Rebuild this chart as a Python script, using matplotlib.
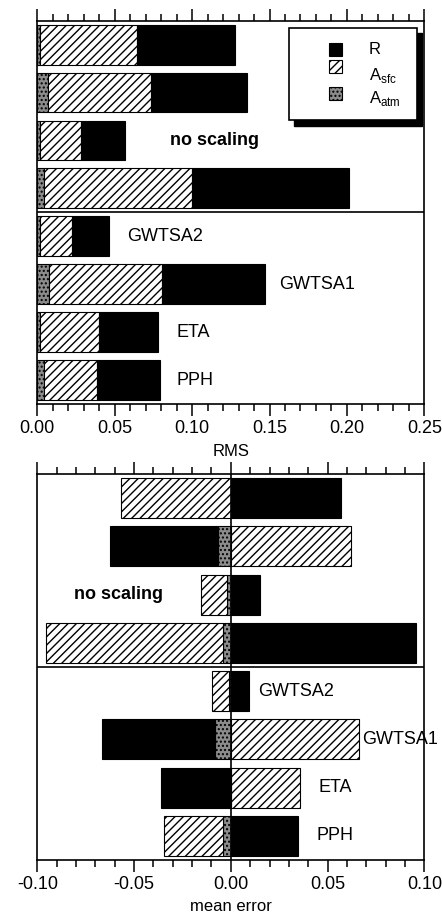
import matplotlib
matplotlib.use('Agg')
import matplotlib.pyplot as plt
from matplotlib.patches import Rectangle
import numpy as np

plt.rcParams['font.family'] = ['Liberation Sans', 'DejaVu Sans']
plt.rcParams['axes.unicode_minus'] = False
plt.rcParams['mathtext.fontset'] = 'custom'
plt.rcParams['mathtext.rm'] = 'Liberation Sans'
plt.rcParams['hatch.linewidth'] = 1.0

# rows top to bottom: 4 "no scaling" runs, then the scaled ones
rows = ['', '', 'no scaling', '', 'GWTSA2', 'GWTSA1', 'ETA', 'PPH']

# RMS contributions (stacked: A_atm, A_sfc, R)
rms_atm = [0.002, 0.0067, 0.002, 0.0045, 0.002, 0.0078, 0.002, 0.0045]
rms_sfc = [0.0622, 0.0667, 0.0262, 0.0956, 0.0202, 0.0728, 0.0379, 0.0343]
rms_r = [0.0635, 0.0623, 0.0287, 0.1015, 0.0243, 0.0667, 0.0381, 0.0403]

# mean error contributions
me_atm = [0.0, -0.0064, -0.002, -0.0041, -0.001, -0.0081, 0.0, -0.0041]
me_sfc = [-0.0569, 0.0622, -0.0133, -0.0915, -0.0087, 0.0661, 0.0355, -0.0305]
me_r = [0.0568, -0.056, 0.0151, 0.0958, 0.0096, -0.0583, -0.0359, 0.0346]

W, H = 442, 916
BAR_H = 0.83

styles = {
    'R': dict(facecolor='black', edgecolor='black', hatch=None),
    'sfc': dict(facecolor='white', edgecolor='black', hatch='////'),
    'atm': dict(facecolor='#8c8c8c', edgecolor='black', hatch='....'),
}


def px(x, y):
    return x / W, 1 - y / H


def stacked(ax, parts):
    # parts in drawing order, stacked outward from zero on each side
    n = len(parts[0][1])
    pos = np.zeros(n)
    neg = np.zeros(n)
    y = np.arange(n)
    for key, vals in parts:
        vals = np.asarray(vals)
        left = np.where(vals >= 0, pos, neg)
        ax.barh(y, vals, left=left, height=BAR_H, linewidth=0.8, **styles[key])
        pos = pos + np.where(vals >= 0, vals, 0)
        neg = neg + np.where(vals < 0, vals, 0)


def style_axis(ax, lo, hi):
    ax.set_xlim(lo, hi)
    ax.set_ylim(len(rows) - 0.5, -0.5)
    ax.set_yticks([])
    ax.set_xticks(np.arange(lo, hi + 1e-9, 0.05))
    ax.set_xticks(np.arange(lo, hi + 1e-9, 0.01), minor=True)
    ax.set_xticklabels(['%.2f' % v for v in np.arange(lo, hi + 1e-9, 0.05)])
    ax.tick_params(axis='x', which='both', direction='out', top=True, bottom=True,
                   width=1.1, labelsize=13, pad=3)
    ax.tick_params(axis='x', which='major', length=8.5)
    ax.tick_params(axis='x', which='minor', length=5)
    for s in ax.spines.values():
        s.set_linewidth(1.2)
    ax.axhline(3.5, color='black', lw=1.2)


fig = plt.figure(figsize=(W / 100, H / 100), dpi=100)

# top panel: RMS
ax1 = fig.add_axes([0.0844, 0.559, 0.8756, 0.4184])
stacked(ax1, [('atm', rms_atm), ('sfc', rms_sfc), ('R', rms_r)])
style_axis(ax1, 0.0, 0.25)
ax1.set_xlabel('RMS', fontsize=12, labelpad=5)
ax1.text(0.0857, 2, 'no scaling', fontsize=13, fontweight='bold', va='center')
for i, x in zip(range(4, 8), [0.0577, 0.156, 0.090, 0.090]):
    ax1.text(x, i, rows[i], fontsize=13, va='center')

# legend box with black shadow
fig.patches.append(Rectangle(px(293.5, 125.5), 128 / W, 93 / H, transform=fig.transFigure,
                             facecolor='black', edgecolor='black', zorder=5))
fig.patches.append(Rectangle(px(289.3, 120), 128 / W, 92 / H, transform=fig.transFigure,
                             facecolor='white', edgecolor='black', lw=1.2, zorder=6))
leg_items = [('R', 'R', 56, 49), ('sfc', r'A$_{\mathrm{sfc}}$', 72.7, 75.5),
             ('atm', r'A$_{\mathrm{atm}}$', 100, 98)]
for key, lab, ybot, ytxt in leg_items:
    fig.patches.append(Rectangle(px(328.5, ybot), 13 / W, 13 / H, transform=fig.transFigure,
                                 linewidth=0.8, zorder=7, **styles[key]))
    fig.text(*px(369, ytxt), lab, fontsize=12, va='center', zorder=7)

# bottom panel: mean error
ax2 = fig.add_axes([0.0844, 0.0611, 0.8756, 0.4214])
stacked(ax2, [('atm', me_atm), ('sfc', me_sfc), ('R', me_r)])
style_axis(ax2, -0.10, 0.10)
ax2.axvline(0, color='black', lw=1.2)
ax2.set_xlabel('mean error', fontsize=12, labelpad=4)
ax2.text(-0.0808, 2, 'no scaling', fontsize=13, fontweight='bold', va='center')
for i, x in zip(range(4, 8), [0.0143, 0.0677, 0.0453, 0.0444]):
    ax2.text(x, i, rows[i], fontsize=13, va='center')

fig.savefig('out.png', dpi=100)
